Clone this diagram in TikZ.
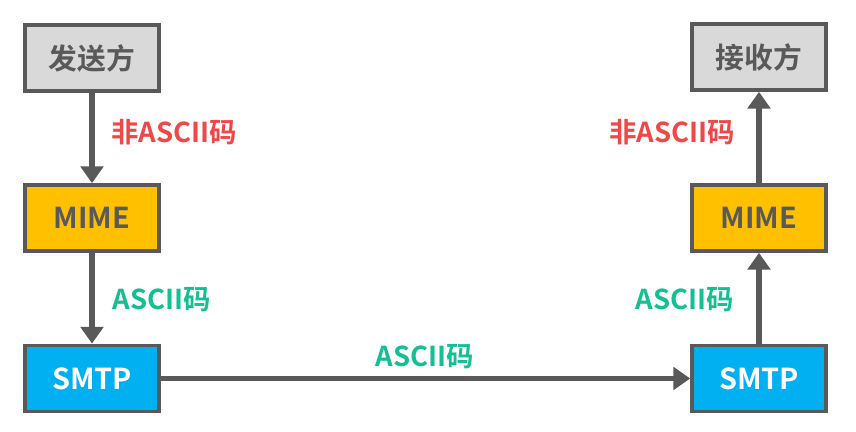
\documentclass[tikz,border=0pt]{standalone}
\usepackage{fontspec}
\setmainfont{Noto Sans CJK SC}[BoldFont={Noto Sans CJK SC Bold}]
\usetikzlibrary{arrows.meta}
\definecolor{edgegray}{HTML}{595959}
\definecolor{boxgray}{HTML}{D9D9D9}
\definecolor{mimeyellow}{HTML}{FFC000}
\definecolor{smtpblue}{HTML}{00B0F0}
\definecolor{labred}{HTML}{F04848}
\definecolor{labgreen}{HTML}{14BF94}
\tikzstyle{box} = [rectangle, minimum width=3.35cm, minimum height=1.65cm, text centered, draw=edgegray,
line width=2.6pt, inner sep=0.5ex, font=\fontsize{20.5}{24}\selectfont\bfseries, text=edgegray]
\tikzstyle{arrow} = [line width=3.6pt, draw=edgegray, line cap=round, -{Triangle[width=16pt,length=12pt]}]
\tikzstyle{lab} = [inner sep=0pt, font=\fontsize{19.5}{23}\selectfont\bfseries]

\begin{document}
\begin{tikzpicture}[x=0.025cm,y=0.025cm]
                        \useasboundingbox (0,0) rectangle (856,432);
                        \node[box, fill=boxgray] (send) at (92,374) {发送方};
                        \node[box, fill=mimeyellow] (mimeL) at (92,214) {MIME};
                        \node[box, fill=smtpblue, text=white] (smtpL) at (92,53.5) {SMTP};
                        \node[box, fill=boxgray] (recv) at (759,375) {接收方};
                        \node[box, fill=mimeyellow] (mimeR) at (759,214) {MIME};
                        \node[box, fill=smtpblue, text=white] (smtpR) at (759,53.5) {SMTP};
                        \draw[arrow] (send) -- (mimeL);
                        \draw[arrow] (mimeL) -- (smtpL);
                        \draw[arrow] (smtpL) -- (smtpR);
                        \draw[arrow] (smtpR) -- (mimeR);
                        \draw[arrow] (mimeR) -- (recv);
                        \node[lab, text=labred] (nonL) at (174,300) {非ASCII码};
                        \node[lab, text=labgreen] (asciiL) at (162,132) {ASCII码};
                        \node[lab, text=labgreen] (asciiM) at (425,75) {ASCII码};
                        \node[lab, text=labgreen] (asciiR) at (685,132) {ASCII码};
                        \node[lab, text=labred] (nonR) at (672,300) {非ASCII码};
                    \end{tikzpicture}
\end{document}
